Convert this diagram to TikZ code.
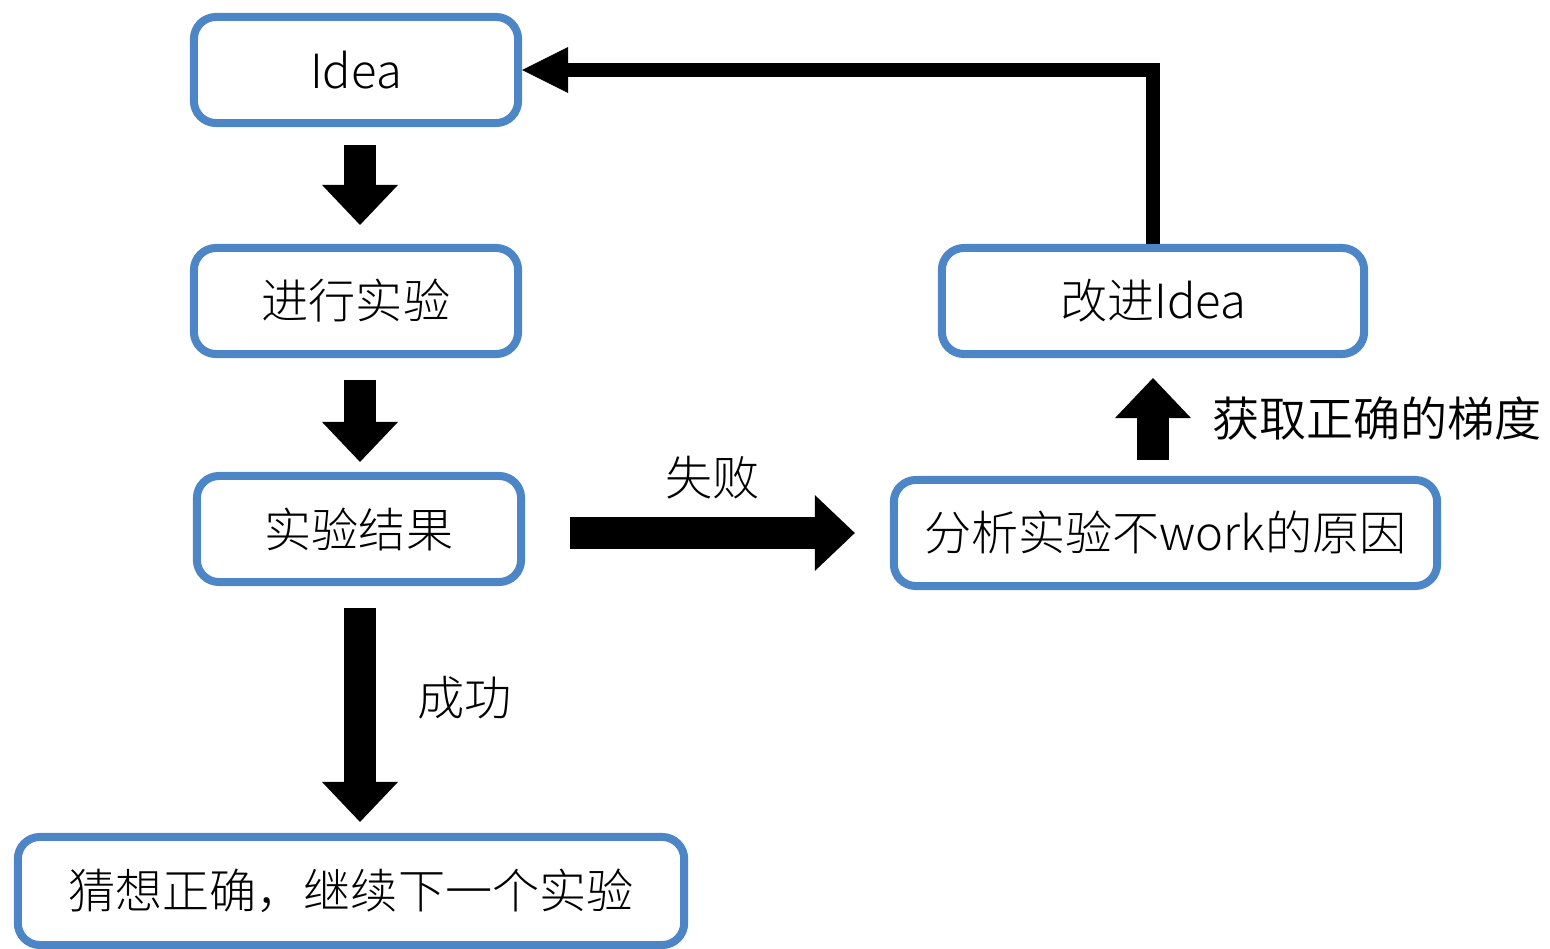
\documentclass[tikz,border=0pt]{standalone}
\usepackage{fontspec}
\IfFontExistsTF{Noto Sans CJK SC Light}{\setmainfont{Noto Sans CJK SC Light}}{\setmainfont{Noto Sans CJK SC}}
\IfFontExistsTF{Noto Sans CJK SC DemiLight}{\newfontfamily\gradfont{Noto Sans CJK SC DemiLight}}{\newfontfamily\gradfont{Noto Sans CJK SC}}
\usetikzlibrary{arrows.meta,calc}
\definecolor{boxblue}{RGB}{76,134,198}
\begin{document}
\begin{tikzpicture}[x=0.01cm, y=-0.01cm, font=\fontsize{13.4pt}{16pt}\selectfont,
    box/.style={draw=boxblue, line width=0.08cm, rounded corners=0.22cm, minimum height=1.06cm},
    fat/.style={line width=0.31cm, -{Triangle[width=0.76cm, length=0.4cm, line width=0pt]}}]
    \useasboundingbox (0,0) rectangle (1550,949);

    \node[box, minimum width=3.24cm] (idea) at (356,70) {Idea};
    \node[box, minimum width=3.24cm] (run) at (356,301) {进行实验};
    \node[box, minimum width=3.24cm] (result) at (359,529) {实验结果};
    \node[box, minimum width=6.66cm, minimum height=1.08cm] (right) at (351,891) {猜想正确，继续下一个实验};
    \node[box, minimum width=4.22cm] (improve) at (1153,301) {改进Idea};
    \node[box, minimum width=5.43cm] (analyze) at (1165.5,533) {分析实验不work的原因};

    % vertical arrows at x=360
    \coordinate (col) at (360,0);
    \draw[fat]($(col|-idea.south)+(0,18)$)--($(col|-run.north)+(0,-19)$);
    \draw[fat]($(col|-run.south)+(0,22)$)--($(col|-result.north)+(0,-10)$);
    \draw[fat]($(col|-result.south)+(0,22)$)--($(col|-right.north)+(0,-11)$);
    \draw[fat]($(result.east|-analyze.west)+(45,0)$)--([xshift=-0.35cm]analyze.west)
        node[midway, above=0.07cm]{失败};
    \draw[fat]([yshift=0.16cm]analyze.north-|improve.south)--([yshift=-0.2cm]improve.south)
        node[midway, right=0.32cm, font=\gradfont\fontsize{13.4pt}{16pt}\selectfont]{获取正确的梯度};
    \node (success) at (465,698) {成功};

    \draw[line width=0.14cm, line join=miter, -{Triangle[width=0.46cm, length=0.46cm, line width=0pt]}]
        (improve.north)|-(idea.east);
\end{tikzpicture}
\end{document}
